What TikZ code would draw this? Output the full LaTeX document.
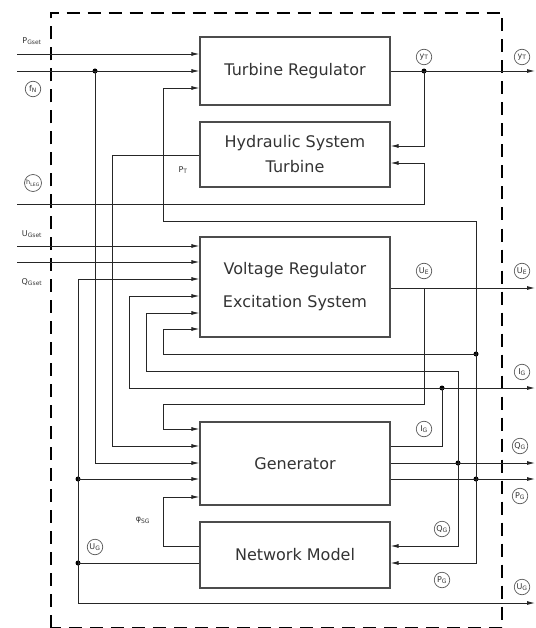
\documentclass[tikz,border=0pt]{standalone}
\usepackage{fontspec}
\setmainfont{DejaVu Sans}
\usetikzlibrary{arrows.meta}
\begin{document}
\begin{tikzpicture}[x=1pt,y=-1pt,
  box/.style={draw=black!70, line width=1.1pt, minimum width=190pt, inner sep=0pt,
    font=\fontsize{16}{19}\selectfont, text=black!80, align=center},
  wire/.style={line width=0.9pt, draw=black!85},
  arr/.style={wire, -{Latex[length=8pt,width=4pt]}},
  dot/.style={circle, fill=black, inner sep=0pt, minimum size=5pt},
  clab/.style={circle, draw=black!65, line width=0.7pt, inner sep=0pt, minimum size=15.5pt,
    font=\fontsize{8}{9}\selectfont, text=black!80},
  tlab/.style={font=\fontsize{8}{9}\selectfont, inner sep=0pt, text=black!80},
  border/.style={line width=2pt, dash pattern=on 13pt off 8pt}
]
\useasboundingbox (0,0) rectangle (535,628);
% border
\draw[border] (51,627.5) -- (51,13) -- (502,13) -- (502,627.5) -- cycle;
% boxes
\node[box, minimum height=68pt] (tr) at (295,71) {Turbine Regulator};
\node[box, minimum height=65pt] (hs) at (295,154.5) {Hydraulic System\\[6pt]Turbine};
\node[box, minimum height=100pt] (vr) at (295,287) {Voltage Regulator\\[14pt]Excitation System};
\node[box, minimum height=83pt] (gen) at (295,463.5) {Generator};
\node[box, minimum height=66pt] (nm) at (295,555) {Network Model};
% free ends and bends
\coordinate (iPG) at (17,54);
\coordinate (iFN) at (17,71);
\coordinate (iH) at (17,204);
\coordinate (iUG) at (17,246);
\coordinate (iQG) at (17,262);
\coordinate (oYT) at (535,71);
\coordinate (oUE) at (535,288);
\coordinate (oIG) at (535,388);
\coordinate (oQG) at (535,463);
\coordinate (oPG) at (535,479);
\coordinate (oUG) at (535,603);
\coordinate (tIn) at (163,88);
\coordinate (tTop) at (163,221);
\coordinate (hs1) at (424,146);
\coordinate (hs2) at (424,163);
\coordinate (pr) at (112,155);
\coordinate (vr3) at (78,279);
\coordinate (vr4) at (129,296);
\coordinate (vr5) at (146,313);
\coordinate (vr6) at (163,329);
\coordinate (jUE) at (424,288);
\coordinate (qgT) at (458,371);
\coordinate (ueB) at (424,404);
\coordinate (ueC) at (163,429);
\coordinate (igB) at (442,446);
\coordinate (phB) at (163,497);
\coordinate (phA) at (163,546);
\coordinate (ugBot) at (78,603);
% junction dots
\node[dot] (jFN) at (95,71) {};
\node[dot] (jYT) at (424,71) {};
\node[dot] (jPGa) at (476,354) {};
\node[dot] (jIG) at (442,388) {};
\node[dot] (jQG) at (458,463) {};
\node[dot] (jPG) at (476,479) {};
\node[dot] (jUGa) at (78,479) {};
\node[dot] (jUGb) at (78,563) {};
% turbine regulator
\draw[arr] (iPG) -- (iPG -| tr.west);
\draw[arr] (iFN) -- (iFN -| tr.west);
\draw[arr] (jPG.center) |- (tTop) -- (tIn) -- (tIn -| tr.west);
\draw[arr] (tr.east) -- (oYT);
% hydraulic system
\draw[arr] (jYT.center) -- (hs1) -- (hs1 -| hs.east);
\draw[arr] (iH) -| (hs2) -- (hs2 -| hs.east);
\draw[arr] (pr -| hs.west) -- (pr) |- (gen.west |- igB);
% voltage regulator
\draw[arr] (iUG) -- (iUG -| vr.west);
\draw[arr] (iQG) -- (iQG -| vr.west);
\draw[arr] (ugBot) -- (vr3) -- (vr3 -| vr.west);
\draw[arr] (jIG.center) -| (vr4) -- (vr4 -| vr.west);
\draw[arr] (qgT) -| (vr5) -- (vr5 -| vr.west);
\draw[arr] (jPGa.center) -| (vr6) -- (vr6 -| vr.west);
\draw[arr] (vr.east |- jUE) -- (oUE);
% generator
\draw[arr] (jUE) -- (ueB) -| (ueC) -- (ueC -| gen.west);
\draw[arr] (jFN.center) |- (gen.west |- jQG);
\draw[arr] (jUGa.center) -- (jUGa -| gen.west);
\draw[arr] (nm.west |- phA) -- (phA) -- (phB) -- (phB -| gen.west);
\draw[wire] (gen.east |- igB) -- (igB) -- (jIG.center);
\draw[arr] (jIG.center) -- (oIG);
\draw[arr] (gen.east |- jQG) -- (oQG);
\draw[arr] (gen.east |- jPG) -- (oPG);
% network model
\draw[arr] (qgT) |- (nm.east |- phA);
\draw[arr] (jPG.center) |- (nm.east |- jUGb);
\draw[wire] (nm.west |- jUGb) -- (jUGb.center);
\draw[arr] (ugBot) -- (oUG);
% plain labels
\node[tlab] (lPG) at (32,41) {P\textsubscript{Gset}};
\node[tlab] (lUG) at (32,234) {U\textsubscript{Gset}};
\node[tlab] (lQG) at (32,282) {Q\textsubscript{Gset}};
\node[tlab] (lPT) at (183,170) {P\textsubscript{T}};
\node[tlab] (lphi) at (143,520) {φ\textsubscript{SG}};
% circled labels
\node[clab] (cFN) at (33,89) {f\textsubscript{N}};
\node[clab, font=\fontsize{6.5}{7}\selectfont, minimum size=17pt] (cH) at (33,183) {h\textsubscript{LEG}};
\node[clab] (cYT1) at (424,57) {y\textsubscript{T}};
\node[clab] (cYT2) at (522,57) {y\textsubscript{T}};
\node[clab] (cUE1) at (424,271) {U\textsubscript{E}};
\node[clab] (cUE2) at (522,271) {U\textsubscript{E}};
\node[clab] (cIG1) at (424,429) {I\textsubscript{G}};
\node[clab] (cIG2) at (522,372) {I\textsubscript{G}};
\node[clab] (cQG1) at (442,529) {Q\textsubscript{G}};
\node[clab] (cQG2) at (520,446) {Q\textsubscript{G}};
\node[clab] (cPG1) at (442,580) {P\textsubscript{G}};
\node[clab] (cPG2) at (520,496) {P\textsubscript{G}};
\node[clab] (cUG1) at (95,547) {U\textsubscript{G}};
\node[clab] (cUG2) at (522,587) {U\textsubscript{G}};
\end{tikzpicture}
\end{document}
